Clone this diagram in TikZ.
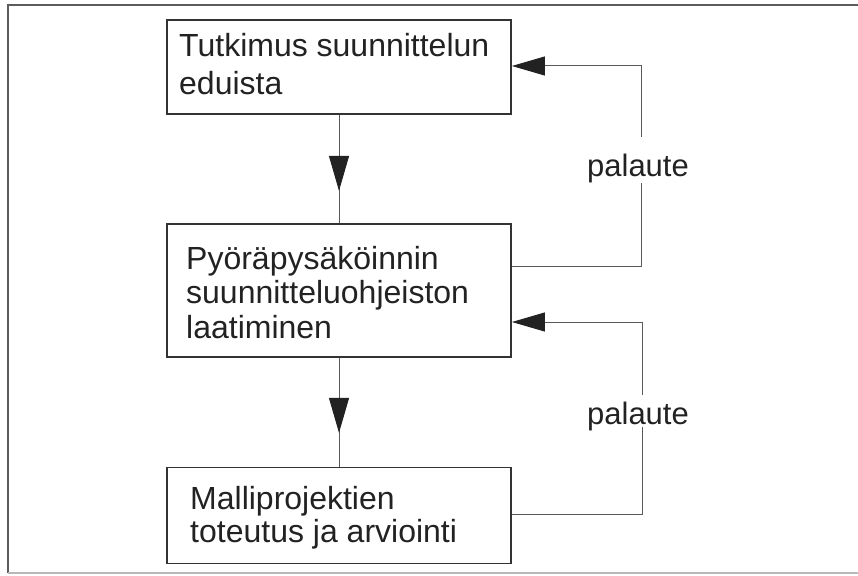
\documentclass[tikz,border=0pt]{standalone}
\usepackage{fontspec}
\setmainfont{Liberation Sans}
\usetikzlibrary{arrows.meta,calc}
\definecolor{ink}{HTML}{222222}
\definecolor{boxline}{HTML}{333333}
\definecolor{thinline}{HTML}{5A5A5A}
\definecolor{framelight}{HTML}{B8B8B8}
\begin{document}
\begin{tikzpicture}[x=1pt,y=-1pt,
  stepbox/.style={draw=boxline,line width=1.8pt,inner sep=0pt},
  txt/.style={anchor=base west,inner sep=0pt,text=ink,font=\fontsize{32}{38}\selectfont},
  conn/.style={draw=thinline,line width=1pt},
  headv/.style={conn,-{Triangle[length=35pt,width=20pt,fill=ink,color=ink]}},
  headh/.style={conn,-{Triangle[length=33pt,width=19pt,fill=ink,color=ink]}},
  fbtxt/.style={inner sep=0pt,text=ink,font=\fontsize{31}{36}\selectfont,text height=39pt,text depth=7pt,anchor=base}]
\useasboundingbox (0,0) rectangle (858,575);
% outer frame
\draw[draw=boxline!80,line width=1.6pt] (866,5) -- (8,5) -- (8,573);
\draw[draw=framelight,line width=1.2pt] (8,573) -- (866,573);
% boxes
\node[stepbox,minimum width=344pt,minimum height=94pt] (b1) at (339,67) {};
\node[stepbox,minimum width=344pt,minimum height=133pt] (b2) at (339,290.5) {};
\node[stepbox,minimum width=344pt,minimum height=96pt] (b3) at (339,515.5) {};
% texts
\node[txt] (t1a) at (179,57) {Tutkimus suunnittelun};
\node[txt] (t1b) at (179,95) {eduista};
\node[txt] (t2a) at (186,269) {Pyöräpysäköinnin};
\node[txt] (t2b) at (186,303) {suunnitteluohjeiston};
\node[txt] (t2c) at (186,338) {laatiminen};
\node[txt] (t3a) at (190,509) {Malliprojektien};
\node[txt] (t3b) at (190,542) {toteutus ja arviointi};
% downward arrows
\draw[conn] (b1.south) -- (b2.north);
\draw[headv] (b1.south) -- ($(b1.south)+(0,76)$);
\draw[conn] (b2.south) -- (b3.north);
\draw[headv] (b2.south) -- ($(b2.south)+(0,75)$);
% feedback 1
\node[fbtxt] (p1) at (638,176) {palaute};
\coordinate (c1) at (641,266);
\coordinate (c2) at (641,66);
\draw[conn] (b2.east |- c1) -- (c1) -- (p1.south -| c1);
\draw[headh] (p1.north -| c2) -- (c2) -- (b1.east |- c2);
% feedback 2
\node[fbtxt] (p2) at (638,424) {palaute};
\coordinate (c3) at (642,514);
\coordinate (c4) at (642,322);
\draw[conn] (b3.east |- c3) -- (c3) -- ($(p2.south -| c3)+(0,-4)$);
\draw[headh] ($(p2.north -| c4)+(0,10)$) -- (c4) -- (b2.east |- c4);
\end{tikzpicture}
\end{document}
